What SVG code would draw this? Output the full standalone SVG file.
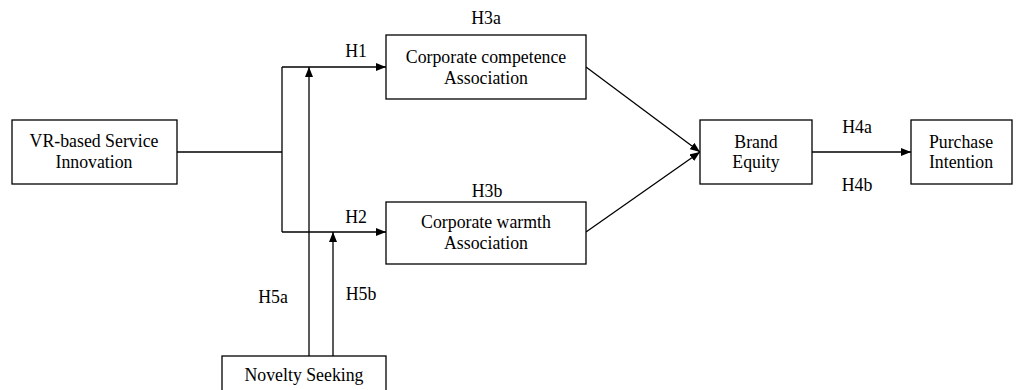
<svg xmlns="http://www.w3.org/2000/svg" width="1016" height="390" viewBox="0 0 1016 390">
<style>
.box{fill:#fff;stroke:#000;stroke-width:1.3}
text{font-family:"Liberation Serif","Times New Roman",serif;font-size:17.8px;fill:#000;text-anchor:middle}
.ln{fill:none;stroke:#000;stroke-width:1.3}
</style>
<defs>
<marker id="ah" markerWidth="10" markerHeight="8" refX="10" refY="4" orient="auto" markerUnits="userSpaceOnUse">
<path d="M0,0 L10,4 L0,8 Z" fill="#000"/>
</marker>
</defs>
<g id="connectors">
<path class="ln" d="M177,152 H282"/>
<path class="ln" d="M282,67 V232"/>
<path class="ln" d="M282,67 H386" marker-end="url(#ah)"/>
<path class="ln" d="M282,232 H386" marker-end="url(#ah)"/>
<path class="ln" d="M309,356 V67" marker-end="url(#ah)"/>
<path class="ln" d="M333,356 V232" marker-end="url(#ah)"/>
<path class="ln" d="M586,67 L700,152" marker-end="url(#ah)"/>
<path class="ln" d="M586,232 L700,152" marker-end="url(#ah)"/>
<path class="ln" d="M812,152 H911" marker-end="url(#ah)"/>
</g>
<g id="labels">
<text x="356" y="57">H1</text>
<text x="356" y="223">H2</text>
<text x="486" y="24">H3a</text>
<text x="487" y="197">H3b</text>
<text x="857" y="133">H4a</text>
<text x="857" y="191">H4b</text>
<text x="273" y="303">H5a</text>
<text x="361" y="300">H5b</text>
</g>
<g id="vr">
<rect class="box" x="12" y="120" width="165" height="64"/>
<text x="94" y="147">VR-based Service</text>
<text x="94" y="168">Innovation</text>
</g>
<g id="competence">
<rect class="box" x="386" y="35" width="200" height="64"/>
<text x="486" y="63">Corporate competence</text>
<text x="486" y="84">Association</text>
</g>
<g id="warmth">
<rect class="box" x="386" y="202" width="200" height="62"/>
<text x="486" y="228">Corporate warmth</text>
<text x="486" y="249">Association</text>
</g>
<g id="brand">
<rect class="box" x="700" y="120" width="112" height="64"/>
<text x="756" y="148">Brand</text>
<text x="756" y="168">Equity</text>
</g>
<g id="purchase">
<rect class="box" x="911" y="120" width="101" height="64"/>
<text x="961" y="148">Purchase</text>
<text x="961" y="168">Intention</text>
</g>
<g id="novelty">
<rect class="box" x="222" y="356" width="164" height="40"/>
<text x="304" y="381">Novelty Seeking</text>
</g>
</svg>
